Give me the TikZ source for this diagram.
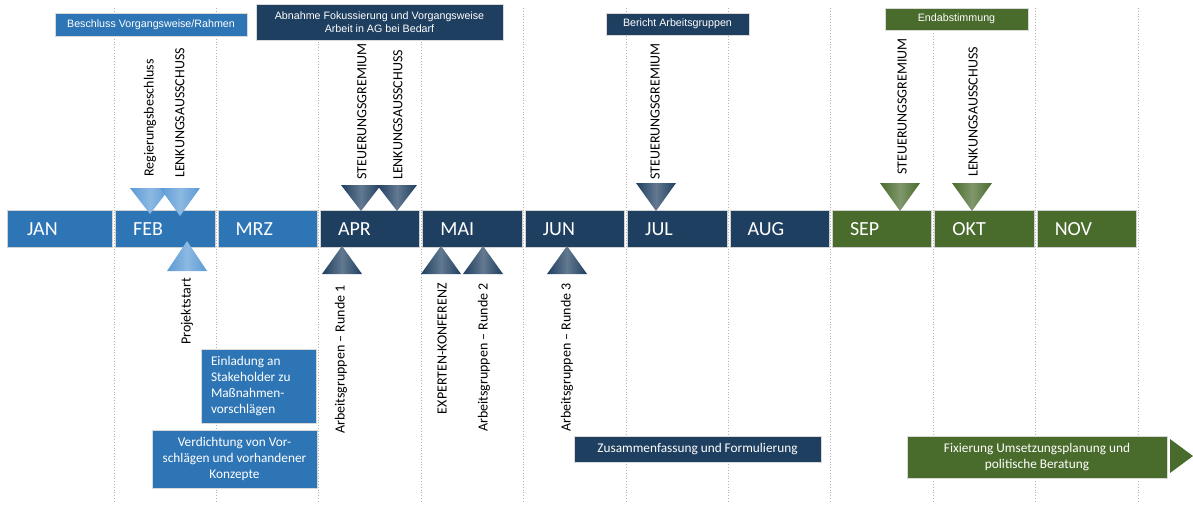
\documentclass[tikz,border=0pt]{standalone}
\usepackage{fontspec}
\setmainfont{Carlito}
\newfontfamily\arialfont{Liberation Sans}
\definecolor{midblue}{HTML}{2E75B6}
\definecolor{navy}{HTML}{1F3F60}
\definecolor{lblue}{HTML}{5B9BD5}
\definecolor{dgreen}{HTML}{496B2C}
\tikzset{
  monthbox/.style={draw=gray!35, line width=0.6pt, minimum height=37pt, inner sep=0pt, outer sep=0pt, anchor=north west},
  mlabel/.style={text=white, font=\fontsize{20}{24}\selectfont, anchor=base west, inner sep=0pt},
  vlabel/.style={rotate=90, font=\fontsize{14}{16}\selectfont, inner sep=0pt, text=black},
  topbox/.style={draw=gray!30, line width=0.6pt, text=white, font=\arialfont\fontsize{10.7}{12.5}\selectfont, align=center, inner sep=0pt, outer sep=0pt, anchor=north west},
  botbox/.style={draw=gray!30, line width=0.6pt, text=white, font=\fontsize{13.3}{16}\selectfont, inner sep=0pt, outer sep=0pt, anchor=north west},
  gridline/.style={gray!60, dotted, line width=0.8pt},
}
\newcommand\TriDown[4]{%
  \shade[left color=#4, right color=#4, middle color=#4!70!white] ({#1-20},#2) -- ({#1+20},#2) -- (#1,#3) -- cycle;}
\newcommand\TriUp[4]{%
  \shade[left color=#4, right color=#4, middle color=#4!70!white] ({#1-20},#2) -- ({#1+20},#2) -- (#1,#3) -- cycle;}
\begin{document}
\begin{tikzpicture}[x=1pt, y=-1pt]
\useasboundingbox (0,0) rectangle (1193,506);
\fill[white] (0,0) rectangle (1193,506);

% dotted month separators
\foreach \k in {1,...,11} {
  \draw[gridline] ({114+(\k-1)*102.4},8) -- ({114+(\k-1)*102.4},502);
}

% month bar
\node[monthbox, fill=midblue, minimum width=105.5pt] (m0) at (7,210) {};
\node[mlabel] (t0) at (27,235) {JAN};
\foreach \i/\lab/\col in {1/FEB/midblue, 2/MRZ/midblue, 3/APR/navy, 4/MAI/navy, 5/JUN/navy, 6/JUL/navy, 7/AUG/navy, 8/SEP/dgreen, 9/OKT/dgreen, 10/NOV/dgreen} {
  \pgfmathsetmacro\xl{114+(\i-1)*102.4+1.5}
  \node[monthbox, fill=\col, minimum width=99.4pt] (m\i) at (\xl,210) {};
  \node[mlabel] (t\i) at ({\xl+17.5},235) {\lab};
}

% top boxes
\node[topbox, fill=midblue, minimum width=192pt, minimum height=23pt] (b1) at (55,13) {Beschluss Vorgangsweise/Rahmen};
\node[topbox, fill=navy, minimum width=247pt, minimum height=36pt] (b2) at (256,4) {Abnahme Fokussierung und Vorgangsweise\\Arbeit in AG bei Bedarf};
\node[topbox, fill=navy, minimum width=143pt, minimum height=22pt] (b3) at (606,13) {Bericht Arbeitsgruppen};
\node[topbox, fill=dgreen, minimum width=143pt, minimum height=22pt] (b4) at (885,8) {Endabstimmung};

% downward triangles (above bar)
\TriDown{150}{188}{214}{lblue}
\TriDown{180}{188}{216}{lblue}
\TriDown{361}{185}{211}{navy}
\TriDown{397}{185}{211}{navy}
\TriDown{656}{183}{211}{navy}
\TriDown{900}{183}{211}{dgreen}
\TriDown{972}{183}{211}{dgreen}

% upward triangles (below bar)
\TriUp{187}{271}{241}{lblue}
\TriUp{342}{274}{246}{navy}
\TriUp{441}{274}{246}{navy}
\TriUp{483}{274}{246}{navy}
\TriUp{567}{274}{246}{navy}

% labels above
\node[vlabel, anchor=west] (l1) at (150,177) {Regierungsbeschluss};
\node[vlabel, anchor=west] (l2) at (180,178) {LENKUNGSAUSSCHUSS};
\node[vlabel, anchor=west] (l3) at (362,180) {STEUERUNGSGREMIUM};
\node[vlabel, anchor=west] (l4) at (398,180) {LENKUNGSAUSSCHUSS};
\node[vlabel, anchor=west] (l5) at (655,180) {STEUERUNGSGREMIUM};
\node[vlabel, anchor=west] (l6) at (902,175) {STEUERUNGSGREMIUM};
\node[vlabel, anchor=west] (l7) at (973,177) {LENKUNGSAUSSCHUSS};

% labels below
\node[vlabel, anchor=east] (u1) at (187,278) {Projektstart};
\node[vlabel, anchor=east] (u2) at (341,285) {Arbeitsgruppen – Runde 1};
\node[vlabel, anchor=east] (u3) at (442,283) {EXPERTEN-KONFERENZ};
\node[vlabel, anchor=east] (u4) at (484,283) {Arbeitsgruppen – Runde 2};
\node[vlabel, anchor=east] (u5) at (567,283) {Arbeitsgruppen – Runde 3};

% bottom boxes
\node[botbox, fill=midblue, text width=95pt, inner xsep=10pt, minimum height=74pt, align=flush left] (c1) at (201,349) {Einladung an\\Stakeholder zu\\Maßnahmen-\\vorschlägen};
\node[botbox, fill=midblue, minimum width=165pt, minimum height=58pt, align=center] (c2) at (152,430) {Verdichtung von Vor-\\schlägen und vorhandener\\Konzepte};
\node[botbox, fill=navy, minimum width=247pt, minimum height=26pt, align=center] (c3) at (574,436) {Zusammenfassung und Formulierung};
\node[botbox, fill=dgreen, minimum width=260pt, minimum height=42pt, align=center] (c4) at (907,436) {Fixierung Umsetzungsplanung und\\politische Beratung};
\fill[dgreen] (1170,439) -- (1193,456) -- (1170,473) -- cycle;
\end{tikzpicture}
\end{document}
